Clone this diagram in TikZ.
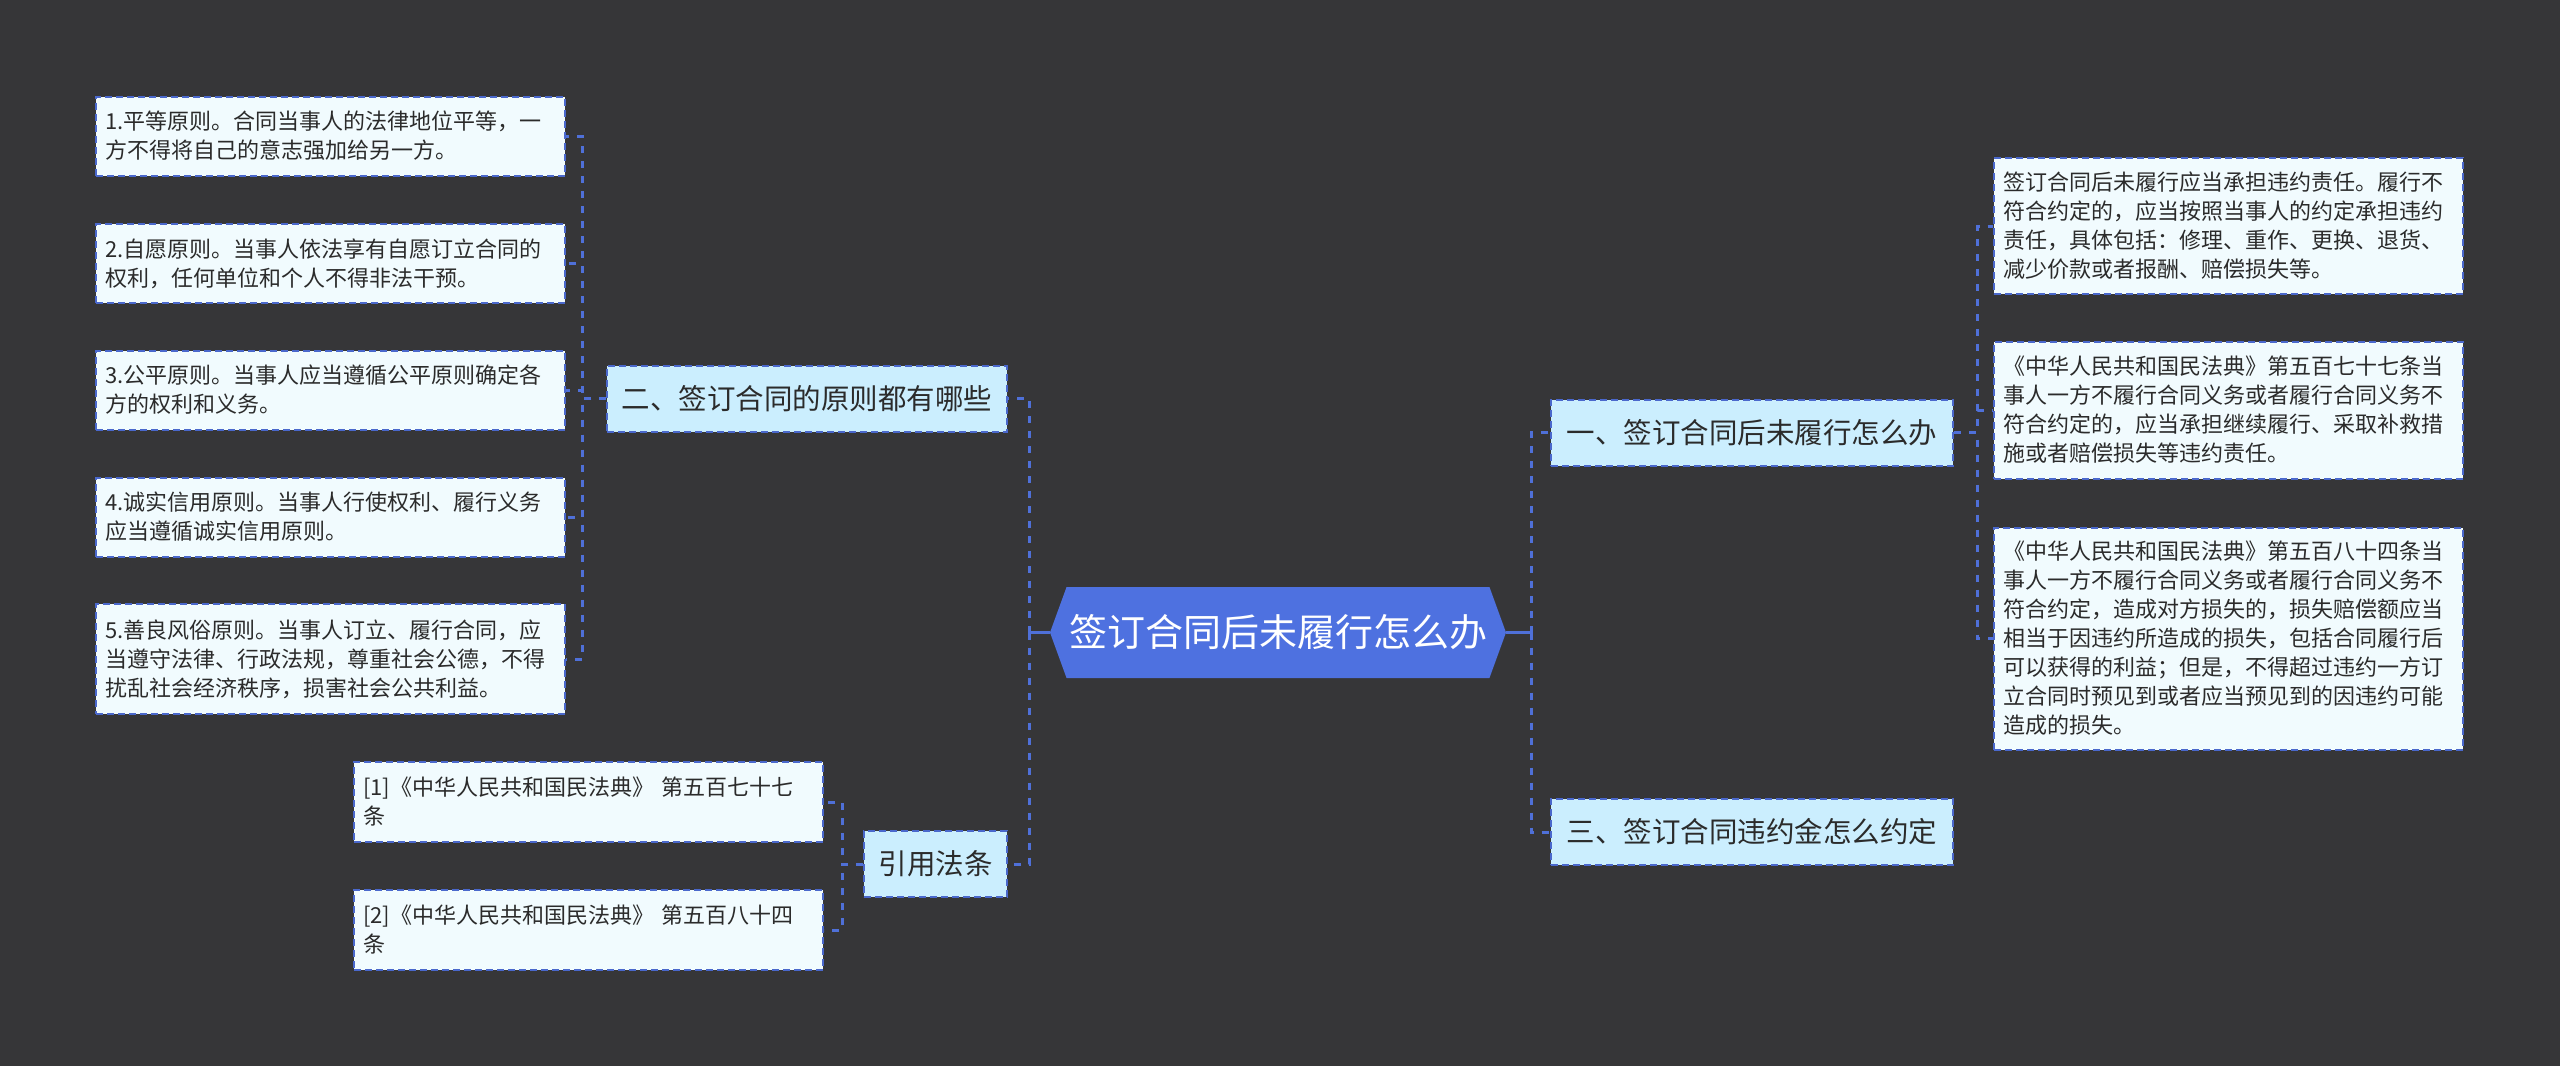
\documentclass[tikz,border=0pt]{standalone}
\usepackage{fontspec}
\setmainfont{Noto Sans CJK SC}
\usetikzlibrary{shapes.symbols}
\definecolor{bgc}{HTML}{363638}
\definecolor{rootfill}{HTML}{4E71E0}
\definecolor{lonefill}{HTML}{CBEEFE}
\definecolor{detfill}{HTML}{F1FBFE}
\definecolor{bdr}{HTML}{4A68CC}
\definecolor{lineclr}{HTML}{4F70D8}
\definecolor{txt}{HTML}{2B2B2B}
\tikzset{
  detail/.style={draw=bdr, dash pattern=on 7pt off 4pt, line width=2pt, fill=detfill, text=txt,
    font=\fontsize{22}{29}\selectfont, align=left, text width=451pt, inner xsep=9pt, inner ysep=0pt},
  lone/.style={draw=bdr, dash pattern=on 7pt off 4pt, line width=2pt, fill=lonefill, text=txt,
    font=\fontsize{28.5}{34}\selectfont, inner sep=0pt, minimum height=66pt},
  conn/.style={draw=lineclr, line width=3pt, dash pattern=on 7pt off 8pt},
  rootstub/.style={draw=lineclr, line width=3pt},
}
\begin{document}
\begin{tikzpicture}[x=1pt,y=-1pt]
\fill[bgc] (0,0) rectangle (2560,1066);
\useasboundingbox (0,0) rectangle (2560,1066);

% root
\node[signal, signal to=west and east, signal pointer angle=140, fill=rootfill, text=white,
  font=\fontsize{38}{44}\selectfont, inner xsep=0pt, inner ysep=0pt,
  minimum width=456pt, minimum height=91pt] (root) at (1278,632.5) {签订合同后未履行怎么办};

% level 1
\node[lone, minimum width=400pt] (n2) at (807,398.5) {二、签订合同的原则都有哪些};
\node[lone, minimum width=143pt] (n4) at (935.5,864) {引用法条};
\node[lone, minimum width=402pt] (n1) at (1752,432.5) {一、签订合同后未履行怎么办};
\node[lone, minimum width=402pt] (n3) at (1752,832) {三、签订合同违约金怎么约定};

% left details
\node[detail, minimum height=79pt] (l1) at (330.5,136) {1.平等原则。合同当事人的法律地位平等，一\\方不得将自己的意志强加给另一方。};
\node[detail, minimum height=79pt] (l2) at (330.5,263.5) {2.自愿原则。当事人依法享有自愿订立合同的\\权利，任何单位和个人不得非法干预。};
\node[detail, minimum height=79pt] (l3) at (330.5,390) {3.公平原则。当事人应当遵循公平原则确定各\\方的权利和义务。};
\node[detail, minimum height=79pt] (l4) at (330.5,517) {4.诚实信用原则。当事人行使权利、履行义务\\应当遵循诚实信用原则。};
\node[detail, minimum height=110pt] (l5) at (330.5,659) {5.善良风俗原则。当事人订立、履行合同，应\\当遵守法律、行政法规，尊重社会公德，不得\\扰乱社会经济秩序，损害社会公共利益。};

% citations
\node[detail, minimum height=80pt] (c1) at (588.5,802) {[1]《中华人民共和国民法典》 第五百七十七\\条};
\node[detail, minimum height=80pt] (c2) at (588.5,930) {[2]《中华人民共和国民法典》 第五百八十四\\条};

% right details
\node[detail, minimum height=136pt] (r1) at (2228.5,226) {签订合同后未履行应当承担违约责任。履行不\\符合约定的，应当按照当事人的约定承担违约\\责任，具体包括：修理、重作、更换、退货、\\减少价款或者报酬、赔偿损失等。};
\node[detail, minimum height=137pt] (r2) at (2228.5,410) {《中华人民共和国民法典》第五百七十七条当\\事人一方不履行合同义务或者履行合同义务不\\符合约定的，应当承担继续履行、采取补救措\\施或者赔偿损失等违约责任。};
\node[detail, minimum height=222pt] (r3) at (2228.5,638.5) {《中华人民共和国民法典》第五百八十四条当\\事人一方不履行合同义务或者履行合同义务不\\符合约定，造成对方损失的，损失赔偿额应当\\相当于因违约所造成的损失，包括合同履行后\\可以获得的利益；但是，不得超过违约一方订\\立合同时预见到或者应当预见到的因违约可能\\造成的损失。};

% connectors
\draw[rootstub] (root.west) -- ++(-20,0) coordinate (jl);
\draw[rootstub] (root.east) -- ++(25,0) coordinate (jr);
\draw[conn] (jl) |- (n2.east);
\draw[conn] (jl) |- (n4.east);
\draw[conn] (jr) |- (n1.west);
\draw[conn] (jr) |- (n3.west);

\foreach \t in {l1,l2,l3,l4,l5}{
  \draw[conn] (n2.west) -- ++(-24,0) |- (\t.east);
}
\foreach \t in {c1,c2}{
  \draw[conn] (n4.west) -- ++(-21,0) |- (\t.east);
}
\foreach \t in {r1,r2,r3}{
  \draw[conn] (n1.east) -- ++(23,0) |- (\t.west);
}
\end{tikzpicture}
\end{document}
